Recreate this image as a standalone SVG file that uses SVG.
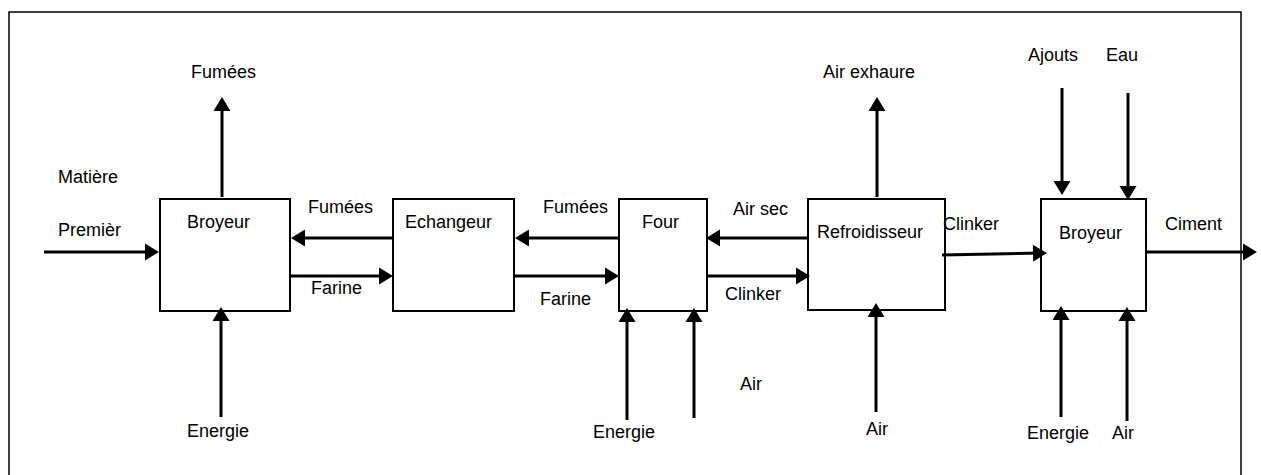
<svg xmlns="http://www.w3.org/2000/svg" width="1261" height="475" viewBox="0 0 1261 475">
  <style>
    .box { fill: #ffffff; stroke: #000000; stroke-width: 2; }
    .flow { fill: none; stroke: #000000; stroke-width: 3; marker-end: url(#head); }
    text { font-family: "Liberation Sans", Arial, sans-serif; font-size: 18px; fill: #000000; }
  </style>
  <defs>
    <!-- solid triangular arrowhead; tip sits 6px past the line end -->
    <marker id="head" markerUnits="userSpaceOnUse" markerWidth="14" markerHeight="17" refX="8" refY="8.5" orient="auto" overflow="visible">
      <path d="M0,0 L14,8.5 L0,17 Z" fill="#000000"/>
    </marker>
  </defs>
  <rect width="1261" height="475" fill="#ffffff"/>
  <!-- outer frame -->
  <rect x="9" y="12" width="1232" height="480" fill="none" stroke="#000000" stroke-width="1.5"/>

  <g id="broyeur-cru">
    <rect class="box" x="160" y="199" width="130" height="112"/>
    <text x="187" y="228">Broyeur</text>
  </g>
  <g id="echangeur">
    <rect class="box" x="393" y="199" width="121" height="112"/>
    <text x="405" y="228">Echangeur</text>
  </g>
  <g id="four">
    <rect class="box" x="619" y="199" width="88" height="112"/>
    <text x="642" y="228">Four</text>
  </g>
  <g id="refroidisseur">
    <rect class="box" x="808" y="199" width="137" height="111"/>
    <text x="817" y="238">Refroidisseur</text>
  </g>
  <g id="broyeur-ciment">
    <rect class="box" x="1041" y="199" width="105" height="112"/>
    <text x="1059" y="239">Broyeur</text>
  </g>

  <g id="connectors">
    <!-- matière première into raw mill -->
    <line class="flow" x1="44" y1="252" x2="153" y2="252"/>
    <!-- raw mill fumes out, energy in -->
    <line class="flow" x1="222" y1="197" x2="222" y2="103"/>
    <line class="flow" x1="221" y1="417" x2="221" y2="313"/>
    <!-- raw mill / exchanger -->
    <line class="flow" x1="393" y1="238" x2="297" y2="238"/>
    <line class="flow" x1="290" y1="276" x2="387" y2="276"/>
    <!-- exchanger / kiln -->
    <line class="flow" x1="619" y1="238" x2="521" y2="238"/>
    <line class="flow" x1="514" y1="276" x2="613" y2="276"/>
    <!-- kiln / cooler -->
    <line class="flow" x1="808" y1="238" x2="712" y2="238"/>
    <line class="flow" x1="707" y1="276" x2="804" y2="276"/>
    <!-- kiln inputs from below -->
    <line class="flow" x1="627" y1="420" x2="627" y2="314"/>
    <line class="flow" x1="694" y1="418" x2="694" y2="314"/>
    <!-- cooler exhaust and air -->
    <line class="flow" x1="877" y1="197" x2="877" y2="103"/>
    <line class="flow" x1="876" y1="412" x2="876" y2="309"/>
    <!-- clinker to cement mill -->
    <line class="flow" x1="942" y1="255" x2="1041" y2="253"/>
    <!-- cement mill additions -->
    <line class="flow" x1="1062" y1="88" x2="1062" y2="189"/>
    <line class="flow" x1="1128" y1="93" x2="1128" y2="194"/>
    <line class="flow" x1="1061" y1="417" x2="1061" y2="312"/>
    <line class="flow" x1="1127" y1="421" x2="1127" y2="313"/>
    <!-- cement out -->
    <line class="flow" x1="1146" y1="252" x2="1251" y2="252"/>
  </g>

  <g id="labels">
    <text x="191" y="78">Fumées</text>
    <text x="58" y="183">Matière</text>
    <text x="58" y="236">Premièr</text>
    <text x="308" y="213">Fumées</text>
    <text x="311" y="294">Farine</text>
    <text x="187" y="437">Energie</text>
    <text x="543" y="213">Fumées</text>
    <text x="540" y="305">Farine</text>
    <text x="733" y="215">Air sec</text>
    <text x="725" y="300">Clinker</text>
    <text x="593" y="438">Energie</text>
    <text x="740" y="390">Air</text>
    <text x="823" y="78">Air exhaure</text>
    <text x="943" y="230">Clinker</text>
    <text x="866" y="435">Air</text>
    <text x="1165" y="230">Ciment</text>
    <text x="1028" y="61">Ajouts</text>
    <text x="1106" y="61">Eau</text>
    <text x="1027" y="439">Energie</text>
    <text x="1112" y="439">Air</text>
  </g>
</svg>
